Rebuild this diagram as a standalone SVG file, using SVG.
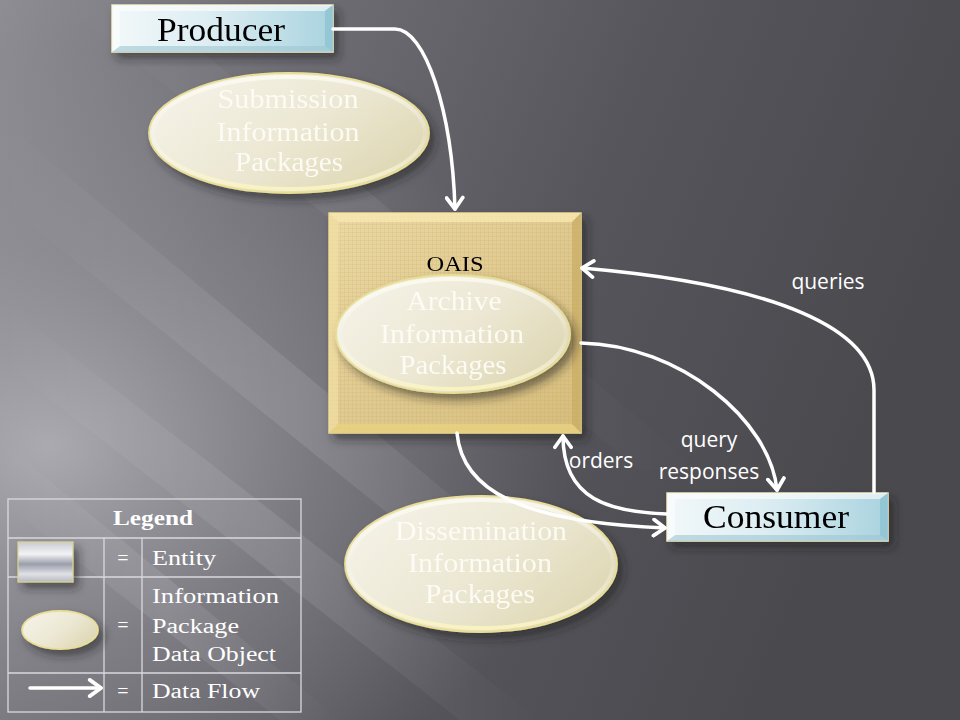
<svg xmlns="http://www.w3.org/2000/svg" width="960" height="720" viewBox="0 0 960 720">
<defs>
<linearGradient id="bg" x1="0" y1="0" x2="1" y2="0.3">
<stop offset="0" stop-color="#8e8d94"/>
<stop offset="0.3" stop-color="#6e6d74"/>
<stop offset="0.65" stop-color="#56555b"/>
<stop offset="1" stop-color="#4a494e"/>
</linearGradient>
<radialGradient id="glow" cx="0.05" cy="0.62" r="0.55">
<stop offset="0" stop-color="#b4b3ba" stop-opacity="0.85"/>
<stop offset="0.5" stop-color="#a09fa6" stop-opacity="0.4"/>
<stop offset="1" stop-color="#a09fa6" stop-opacity="0"/>
</radialGradient>
<linearGradient id="streak" x1="0" y1="0" x2="1" y2="0">
<stop offset="0" stop-color="#ffffff" stop-opacity="0"/>
<stop offset="0.5" stop-color="#ffffff" stop-opacity="0.1"/>
<stop offset="1" stop-color="#ffffff" stop-opacity="0"/>
</linearGradient>
<linearGradient id="blue" x1="0" y1="0" x2="1" y2="0">
<stop offset="0" stop-color="#f2f8f9"/>
<stop offset="0.45" stop-color="#dcedf2"/>
<stop offset="1" stop-color="#a9d3df"/>
</linearGradient>
<linearGradient id="tan" x1="0" y1="0" x2="1" y2="1">
<stop offset="0" stop-color="#ebd9a3"/>
<stop offset="0.5" stop-color="#e0ca90"/>
<stop offset="1" stop-color="#d6bd7c"/>
</linearGradient>
<linearGradient id="egg" x1="0" y1="0.2" x2="1" y2="0.8">
<stop offset="0" stop-color="#f5f3e8"/>
<stop offset="0.5" stop-color="#ece8d4"/>
<stop offset="1" stop-color="#ddd5b0"/>
</linearGradient>
<linearGradient id="eggrim" x1="0" y1="0" x2="0" y2="1">
<stop offset="0" stop-color="#fffef6" stop-opacity="0.7"/>
<stop offset="0.5" stop-color="#ffffff" stop-opacity="0.1"/>
<stop offset="1" stop-color="#fbf4c0" stop-opacity="0.9"/>
</linearGradient>
<linearGradient id="silver" x1="0" y1="0" x2="0" y2="1">
<stop offset="0" stop-color="#c9cbd2"/>
<stop offset="0.3" stop-color="#f2f3f6"/>
<stop offset="0.55" stop-color="#9a9eaa"/>
<stop offset="0.8" stop-color="#dfe1e6"/>
<stop offset="1" stop-color="#b5b8c1"/>
</linearGradient>
<pattern id="weave" width="4" height="4" patternUnits="userSpaceOnUse">
<path d="M0,0.5 H4 M0.5,0 V4" stroke="#b89c5a" stroke-width="0.6" stroke-opacity="0.22"/>
</pattern>
<filter id="shadow" x="-20%" y="-20%" width="150%" height="150%">
<feDropShadow dx="5" dy="6" stdDeviation="5" flood-color="#1a1a1e" flood-opacity="0.55"/>
</filter>
<marker id="arr" markerUnits="userSpaceOnUse" markerWidth="20" markerHeight="20" viewBox="0 0 14 16" refX="11" refY="8" orient="auto">
<path d="M2,1.5 L11,8 L2,14.5" fill="none" stroke="#ffffff" stroke-width="3" stroke-linecap="round" stroke-linejoin="round"/>
</marker>
</defs>
<style>
.ent{font-family:"Liberation Serif","Times New Roman",serif;font-size:33px;fill:#000;text-anchor:middle}
.pkg{font-family:"Liberation Serif","Times New Roman",serif;font-size:27px;fill:#fdfcf6;fill-opacity:0.95;text-anchor:middle}
.lbl{font-family:"Open Sans","Liberation Sans",sans-serif;font-size:21px;fill:#ffffff;text-anchor:middle}
.leg{font-family:"Liberation Serif","Times New Roman",serif;font-size:20px;fill:#ffffff}
.flow{fill:none;stroke:#ffffff;stroke-width:3.5;stroke-linecap:round}
.grid{stroke:#d9d9de;stroke-width:1.3;fill:none}
.eggshape{fill:url(#egg);stroke:#e9de96;stroke-width:1.8}
.rim{fill:none;stroke:url(#eggrim);stroke-width:4}
</style>
<rect x="0" y="0" width="960" height="720" fill="url(#bg)"/>
<rect x="0" y="0" width="960" height="720" fill="url(#glow)"/>
<g id="background-streaks">
<polygon points="0,120 0,200 520,620 600,620" fill="url(#streak)"/>
<polygon points="0,300 0,360 460,720 540,720" fill="url(#streak)"/>
<polygon points="0,440 0,500 280,720 340,720" fill="url(#streak)"/>
<polygon points="60,0 140,0 700,470 640,470" fill="url(#streak)" opacity="0.6"/>
</g>

<g id="producer" filter="url(#shadow)">
<rect x="112" y="5" width="221" height="47" fill="url(#blue)" stroke="#efe8bf" stroke-width="1.5"/>
<polygon points="112,5 333,5 325,11 120,11" fill="#ffffff" opacity="0.6"/>
<polygon points="333,5 333,52 325,46 325,11" fill="#8fc3d3" opacity="0.8"/>
<polygon points="112,52 333,52 325,46 120,46" fill="#9cc7d4" opacity="0.6"/>
<polygon points="112,5 120,11 120,46 112,52" fill="#ffffff" opacity="0.5"/>
<text class="ent" x="221" y="41" textLength="128" lengthAdjust="spacingAndGlyphs">Producer</text>
</g>

<g id="sip" filter="url(#shadow)">
<ellipse class="eggshape" cx="289" cy="133" rx="140" ry="60"/>
<ellipse class="rim" cx="289" cy="133" rx="136" ry="56"/>
<text class="pkg" x="288" y="108" textLength="141" lengthAdjust="spacingAndGlyphs">Submission</text>
<text class="pkg" x="288" y="141" textLength="143" lengthAdjust="spacingAndGlyphs">Information</text>
<text class="pkg" x="289" y="171" textLength="108" lengthAdjust="spacingAndGlyphs">Packages</text>
</g>

<g id="oais" filter="url(#shadow)">
<rect x="329" y="213" width="252" height="220" fill="url(#tan)" stroke="#e8d58f" stroke-width="1.5"/>
<rect x="329" y="213" width="252" height="220" fill="url(#weave)"/>
<polygon points="329,213 581,213 572,222 338,222" fill="#f7e7b0" opacity="0.8"/>
<polygon points="581,213 581,433 572,424 572,222" fill="#c9ad64" opacity="0.7"/>
<polygon points="329,433 581,433 572,424 338,424" fill="#e9d27f" opacity="0.8"/>
<polygon points="329,213 338,222 338,424 329,433" fill="#f2e0a4" opacity="0.7"/>
<text x="455" y="271" font-family="Liberation Serif, Times New Roman, serif" font-size="22" fill="#000" text-anchor="middle" textLength="57" lengthAdjust="spacingAndGlyphs">OAIS</text>
</g>

<g id="aip" filter="url(#shadow)">
<ellipse class="eggshape" cx="453" cy="334" rx="117" ry="59"/>
<ellipse class="rim" cx="453" cy="334" rx="113" ry="55"/>
<text class="pkg" x="454" y="310" textLength="95" lengthAdjust="spacingAndGlyphs">Archive</text>
<text class="pkg" x="452" y="343" textLength="144" lengthAdjust="spacingAndGlyphs">Information</text>
<text class="pkg" x="453" y="374" textLength="107" lengthAdjust="spacingAndGlyphs">Packages</text>
</g>

<g id="dip" filter="url(#shadow)">
<ellipse class="eggshape" cx="481" cy="564" rx="136" ry="68"/>
<ellipse class="rim" cx="481" cy="564" rx="132" ry="64"/>
<text class="pkg" x="481" y="540" textLength="172" lengthAdjust="spacingAndGlyphs">Dissemination</text>
<text class="pkg" x="480" y="572" textLength="144" lengthAdjust="spacingAndGlyphs">Information</text>
<text class="pkg" x="480" y="603" textLength="110" lengthAdjust="spacingAndGlyphs">Packages</text>
</g>

<g id="consumer" filter="url(#shadow)">
<rect x="667" y="493" width="221" height="48" fill="url(#blue)" stroke="#efe8bf" stroke-width="1.5"/>
<polygon points="667,493 888,493 880,499 675,499" fill="#ffffff" opacity="0.6"/>
<polygon points="888,493 888,541 880,535 880,499" fill="#8fc3d3" opacity="0.8"/>
<polygon points="667,541 888,541 880,535 675,535" fill="#9cc7d4" opacity="0.6"/>
<polygon points="667,493 675,499 675,535 667,541" fill="#ffffff" opacity="0.5"/>
<text class="ent" x="776" y="528" textLength="146" lengthAdjust="spacingAndGlyphs">Consumer</text>
</g>

<g id="connectors">
<path class="flow" d="M333,29 H395 C425,29 452,110 455,209" marker-end="url(#arr)"/>
<path class="flow" d="M874,492 V390 C874,330 780,285 582,268" marker-end="url(#arr)"/>
<path class="flow" d="M581,343 C680,345 770,420 777,490" marker-end="url(#arr)"/>
<path class="flow" d="M667,514 C610,512 563,500 563,436" marker-end="url(#arr)"/>
<path class="flow" d="M457,433 C462,490 520,522 665,528" marker-end="url(#arr)"/>
<text class="lbl" x="828" y="289">queries</text>
<text class="lbl" x="709" y="447">query</text>
<text class="lbl" x="709" y="479">responses</text>
<text class="lbl" x="601" y="468">orders</text>
</g>

<g id="legend">
<rect class="grid" x="8" y="499" width="293" height="213"/>
<line class="grid" x1="8" y1="538" x2="301" y2="538"/>
<line class="grid" x1="8" y1="577" x2="301" y2="577"/>
<line class="grid" x1="8" y1="673" x2="301" y2="673"/>
<line class="grid" x1="104" y1="538" x2="104" y2="712"/>
<line class="grid" x1="142" y1="538" x2="142" y2="712"/>
<text class="leg" x="153" y="525" font-weight="bold" text-anchor="middle" font-size="18" textLength="80" lengthAdjust="spacingAndGlyphs">Legend</text>
<g filter="url(#shadow)">
<rect x="18" y="542" width="55" height="40" fill="url(#silver)" stroke="#ddd48c" stroke-width="1.2"/>
<ellipse class="eggshape" cx="60" cy="630" rx="38" ry="19"/>
</g>
<path class="flow" d="M30,688 H101" marker-end="url(#arr)"/>
<text class="leg" x="123" y="565" text-anchor="middle">=</text>
<text class="leg" x="123" y="632" text-anchor="middle">=</text>
<text class="leg" x="123" y="698" text-anchor="middle">=</text>
<text class="leg" x="152" y="565" textLength="64" lengthAdjust="spacingAndGlyphs">Entity</text>
<text class="leg" x="152" y="603" textLength="127" lengthAdjust="spacingAndGlyphs">Information</text>
<text class="leg" x="152" y="633" textLength="87" lengthAdjust="spacingAndGlyphs">Package</text>
<text class="leg" x="152" y="661" textLength="124" lengthAdjust="spacingAndGlyphs">Data Object</text>
<text class="leg" x="152" y="698" textLength="108" lengthAdjust="spacingAndGlyphs">Data Flow</text>
</g>
</svg>
